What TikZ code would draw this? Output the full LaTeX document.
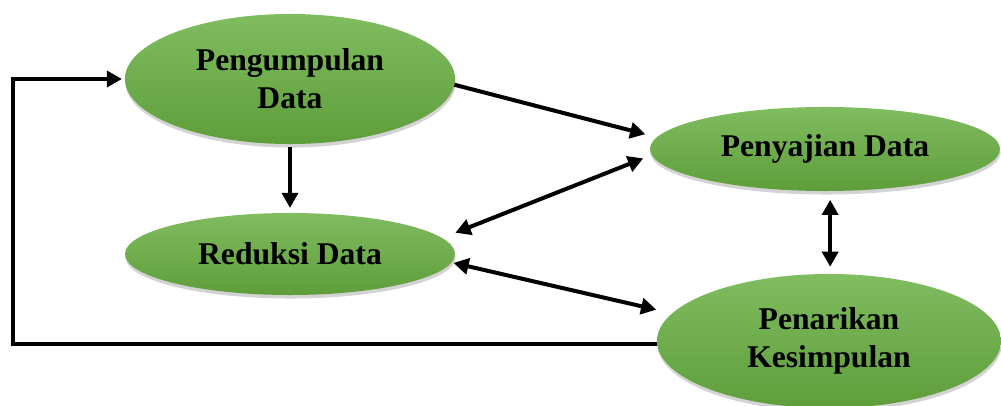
\documentclass[tikz,border=0pt]{standalone}
\usepackage{fontspec}
\setmainfont{Liberation Serif}
\usetikzlibrary{arrows.meta,shapes.geometric,shadows}

\definecolor{hijauatas}{HTML}{80BC60}
\definecolor{hijaubawah}{HTML}{5E9E3A}

\tikzset{
  tahap/.style = {ellipse, inner sep=0pt, outer sep=0pt,
    top color=hijauatas, bottom color=hijaubawah,
    drop shadow={shadow xshift=0.4pt, shadow yshift=-2.5pt, opacity=0.35},
    font=\fontsize{22.5}{27}\selectfont\bfseries, align=center},
  panah/.style = {line width=0.1cm, -{Triangle[length=0.38cm,width=0.4cm]}},
  panahdua/.style = {line width=0.1cm,
    {Triangle[length=0.38cm,width=0.4cm]}-{Triangle[length=0.38cm,width=0.4cm]}}
}

\begin{document}
\begin{tikzpicture}[x=0.025cm, y=-0.025cm]
  \useasboundingbox (0,0) rectangle (1001,406);

  \node[tahap, minimum width=8.25cm, minimum height=3.25cm] (kumpul) at (290,79) {Pengumpulan\\Data};
  \node[tahap, minimum width=8.75cm, minimum height=2.1cm] (saji) at (825,149) {Penyajian Data};
  \node[tahap, minimum width=8.25cm, minimum height=2.05cm] (reduksi) at (290,254) {Reduksi Data};
  \node[tahap, minimum width=8.6cm, minimum height=3.35cm] (tarik) at (829,341) {Penarikan\\Kesimpulan};

  \coordinate (balik) at (13,0);

  % alur antar tahap
  \draw[panah, shorten <=0.075cm, shorten >=0.125cm] (kumpul.south) -- (reduksi.north);
  \draw[panah, shorten >=0.3cm] (kumpul.-2) -- (saji.176);
  \draw[panahdua, shorten <=0.36cm, shorten >=0.23cm] (reduksi.6) -- (saji.182);
  \draw[panahdua, shorten <=0.05cm, shorten >=0.41cm] (reduksi.-3) -- (tarik.170);
  \draw[panahdua, shorten <=0.22cm, shorten >=0.18cm] (saji.-83) -- (saji.-83 |- tarik.north);

  % umpan balik
  \draw[panah, shorten >=0.075cm] (tarik.181) -- (tarik.181 -| balik) |- (kumpul.west);
\end{tikzpicture}
\end{document}
